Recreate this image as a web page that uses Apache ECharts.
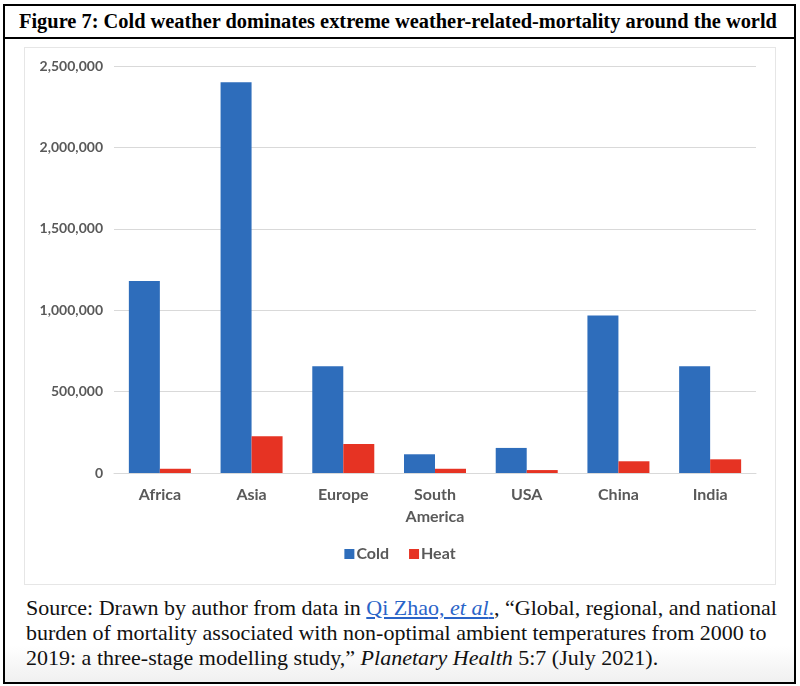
<!DOCTYPE html>
<html>
<head>
<meta charset="utf-8">
<script src="https://cdn.jsdelivr.net/npm/echarts@6/dist/echarts.min.js"></script>
<style>
  html, body { margin: 0; padding: 0; background: #fff; }
  #frame {
    position: absolute; left: 3px; top: 4px; width: 789px; height: 676px;
    border: 2px solid #000; box-sizing: content-box; overflow: hidden;
    background: linear-gradient(to bottom, #fff 0, #fff 640px, #f0f0f0 676px);
  }
  #title {
    position: absolute; left: 0; top: 0; width: 789px; height: 31px;
    border-bottom: 2px solid #000;
    font-family: "Liberation Serif", serif; font-weight: bold; font-size: 20.4px;
    line-height: 31px; white-space: nowrap; text-indent: 14px; color: #000;
  }
  #chart {
    position: absolute; left: 19px; top: 41px; width: 750px; height: 536px;
    border: 1px solid #e6e6e6; background: #fff;
  }
  #source {
    position: absolute; left: 21px; top: 589px;
    font-family: "Liberation Serif", serif; font-size: 22px; line-height: 25px;
    color: #111; white-space: nowrap;
  }
  #source a { color: #2a64c8; text-decoration: underline; }
</style>
</head>
<body>
<div id="frame">
  <div id="title">Figure 7: Cold weather dominates extreme weather-related-mortality around the world</div>
  <div id="chart"></div>
  <div id="source">Source: Drawn by author from data in <a>Qi Zhao, <i>et al</i>.</a>, “Global, regional, and national<br>burden of mortality associated with non-optimal ambient temperatures from 2000 to<br>2019: a three-stage modelling study,” <i>Planetary Health</i> 5:7 (July 2021).</div>
</div>
<script>
const regions = ['Africa', 'Asia', 'Europe', 'South\nAmerica', 'USA', 'China', 'India'];
const coldDeaths = [1180000, 2400000, 655000, 115000, 154000, 968000, 655000];
const heatDeaths = [26000, 225000, 178000, 26000, 18000, 72000, 84000];
const yTicks = [0, 500000, 1000000, 1500000, 2000000, 2500000];

const chart = echarts.init(document.getElementById('chart'));
chart.setOption({
  animation: false,
  grid: { left: 89, right: 19, top: 18, bottom: 111 },
  legend: {
    bottom: 17, left: 'center',
    itemWidth: 10, itemHeight: 10, itemGap: 20, icon: 'rect',
    textStyle: { fontFamily: 'Lato', fontWeight: 'bold', fontSize: 16, color: '#595959', padding: [0, 0, 0, -3] },
    data: ['Cold', 'Heat']
  },
  xAxis: {
    type: 'category',
    data: regions,
    axisLine: { lineStyle: { color: '#d9d9d9', width: 1 } },
    axisTick: { show: false },
    axisLabel: {
      fontFamily: 'Lato', fontWeight: 'bold', fontSize: 16, color: '#595959',
      lineHeight: 22, margin: 11
    }
  },
  yAxis: {
    type: 'value',
    min: yTicks[0], max: yTicks[yTicks.length - 1], interval: yTicks[1] - yTicks[0],
    axisLine: { show: false },
    axisTick: { show: false },
    splitLine: { lineStyle: { color: '#d9d9d9', width: 1 } },
    axisLabel: {
      fontFamily: 'Lato', fontWeight: 'bold', fontSize: 14, color: '#595959', margin: 11,
      formatter: v => v.toLocaleString('en-US')
    }
  },
  series: [
    { name: 'Cold', type: 'bar', data: coldDeaths, barWidth: 31, barGap: '0%',
      itemStyle: { color: '#2e6dbb' } },
    { name: 'Heat', type: 'bar', data: heatDeaths, barWidth: 31,
      itemStyle: { color: '#e63323' } }
  ]
});
</script>
</body>
</html>
